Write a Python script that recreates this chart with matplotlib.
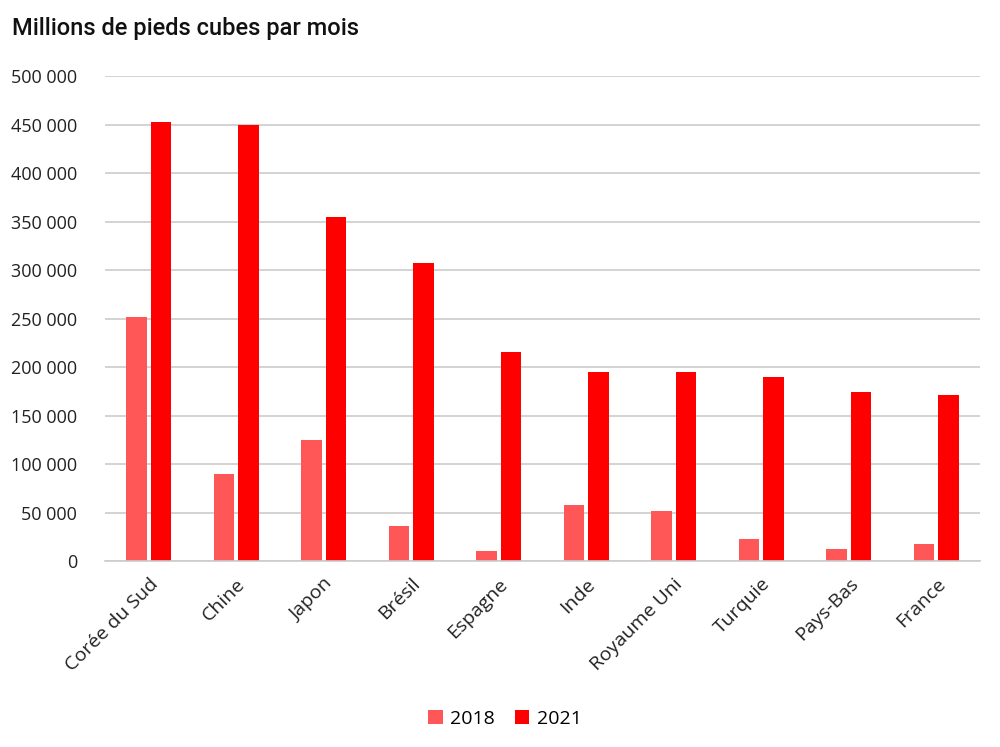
import matplotlib
matplotlib.use("Agg")
import matplotlib.pyplot as plt
import numpy as np

pays = ["Corée du Sud", "Chine", "Japon", "Brésil", "Espagne", "Inde",
        "Royaume Uni", "Turquie", "Pays-Bas", "France"]
valeurs_2018 = [252000, 90000, 125000, 36000, 10000, 57500, 51500, 22500, 12000, 17500]
valeurs_2021 = [452500, 449500, 354500, 307000, 215500, 195000, 195000, 189500, 174000, 171000]
graduations = [0, 50000, 100000, 150000, 200000, 250000, 300000, 350000, 400000, 450000, 500000]

fig = plt.figure(figsize=(10, 7.47), dpi=100)
ax = fig.add_axes([0.105, 0.249, 0.875, 0.649])

x = np.arange(len(pays))
largeur = 0.23
ax.bar(x - 0.14, valeurs_2018, largeur, color="#ff5757", label="2018")
ax.bar(x + 0.14, valeurs_2021, largeur, color="#ff0000", label="2021")

ax.set_xlim(-0.5, len(pays) - 0.5)
ax.set_ylim(0, 500000)
ax.set_yticks(graduations)
ax.set_yticklabels([f"{v:,}".replace(",", " ") for v in graduations],
                   fontsize=13, color="#222222", family="Open Sans")
ax.set_xticks(x)
ax.set_xticklabels(pays, rotation=45, ha="right", rotation_mode="anchor",
                   fontsize=14, color="#222222", family="Open Sans")
ax.tick_params(length=0, pad=10)
ax.tick_params(axis="y", pad=20)

ax.grid(axis="y", color="#cccccc", linewidth=1.2)
ax.set_axisbelow(True)
for s in ["top", "right", "left"]:
    ax.spines[s].set_visible(False)
ax.spines["bottom"].set_color("#cccccc")
ax.spines["bottom"].set_linewidth(1.2)

fig.text(0.012, 0.962, "Millions de pieds cubes par mois", fontsize=17,
         family="Roboto", weight="medium", color="#111111", va="center")

fig.legend(loc="center", bbox_to_anchor=(0.505, 0.038), ncol=2, frameon=False,
           prop={"family": "Open Sans", "size": 14}, handlelength=0.75,
           handleheight=0.75, columnspacing=1.0, handletextpad=0.4)

fig.savefig("out.png", dpi=100)
